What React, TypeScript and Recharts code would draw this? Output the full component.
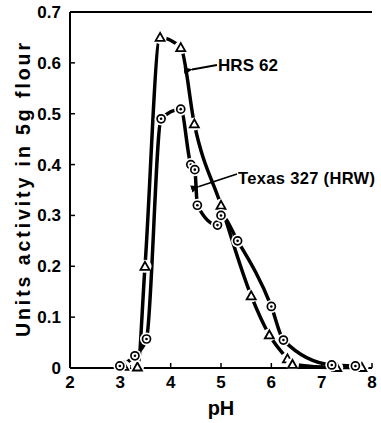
import { LineChart, Line, XAxis, YAxis, ReferenceLine } from "recharts";

const phTicks = [2, 3, 4, 5, 6, 7, 8];
const unitTicks = [0, 0.1, 0.2, 0.3, 0.4, 0.5, 0.6, 0.7];

// HRS 62 (triangles)
const hrsPh = [3.07, 3.34, 3.49, 3.79, 4.2, 4.47, 5.0, 5.6, 5.96, 6.32, 6.42, 7.3, 7.8];
const hrsUnits = [0.003, 0.002, 0.2, 0.65, 0.63, 0.48, 0.32, 0.142, 0.065, 0.018, 0.007, 0.001, 0.001];

// Texas 327 (HRW) (dotted circles)
const texasPh = [2.99, 3.29, 3.52, 3.81, 4.2, 4.4, 4.48, 4.53, 4.93, 5.0, 5.33, 6.0, 6.24, 7.2, 7.67];
const texasUnits = [0.004, 0.024, 0.057, 0.49, 0.509, 0.4, 0.39, 0.32, 0.281, 0.3, 0.25, 0.121, 0.055, 0.006, 0.004];

const hrs = hrsPh.map((ph, i) => ({ ph, units: hrsUnits[i] }));
const texas = texasPh.map((ph, i) => ({ ph, units: texasUnits[i] }));

const font = '"Liberation Sans", Arial, Helvetica, sans-serif';

function Triangle(props: any) {
    const { cx, cy } = props;
    if (cx == null || cy == null) return null;
    return (
        <g>
            <circle cx={cx} cy={cy} r={6.5} fill="#fff" />
            <polygon
                points={`${cx},${cy - 4.5} ${cx - 4.5},${cy + 3.5} ${cx + 4.5},${cy + 3.5}`}
                fill="#fff"
                stroke="#000"
                strokeWidth={1.8}
                strokeLinejoin="miter"
            />
        </g>
    );
}

function Ring(props: any) {
    const { cx, cy } = props;
    if (cx == null || cy == null) return null;
    return (
        <g>
            <circle cx={cx} cy={cy} r={6.5} fill="#fff" />
            <circle cx={cx} cy={cy} r={4} fill="#fff" stroke="#000" strokeWidth={1.7} />
            <circle cx={cx} cy={cy} r={1.3} fill="#000" />
        </g>
    );
}

export default function App() {
    return (
        <div style={{ position: "absolute", left: 0, top: 0, width: 381, height: 423, background: "#fff" }}>
            <LineChart
                width={381}
                height={423}
                margin={{ top: 12, right: 9, bottom: 10, left: 0 }}
                style={{ fontFamily: font }}
            >
                <XAxis
                    type="number"
                    dataKey="ph"
                    domain={[2, 8]}
                    ticks={phTicks}
                    height={45}
                    tickSize={-5}
                    tickMargin={13}
                    axisLine={{ stroke: "#000", strokeWidth: 2 }}
                    tickLine={{ stroke: "#000", strokeWidth: 1.5 }}
                    tick={{ fill: "#000", fontSize: 17, fontWeight: 700, fontFamily: font }}
                    allowDuplicatedCategory={false}
                />
                <YAxis
                    type="number"
                    dataKey="units"
                    domain={[0, 0.7]}
                    ticks={unitTicks}
                    width={70}
                    tickSize={-5}
                    tickMargin={14}
                    axisLine={{ stroke: "#000", strokeWidth: 2 }}
                    tickLine={{ stroke: "#000", strokeWidth: 1.5 }}
                    tick={{ fill: "#000", fontSize: 17, fontWeight: 700, fontFamily: font }}
                    tickFormatter={(v: number) => (v === 0 ? "0" : v.toFixed(1))}
                />
                <ReferenceLine y={0.7} stroke="#000" strokeWidth={2} />
                <Line
                    data={hrs}
                    dataKey="units"
                    type="monotone"
                    stroke="#000"
                    strokeWidth={3.5}
                    dot={<Triangle />}
                    activeDot={false}
                    isAnimationActive={false}
                />
                <Line
                    data={texas}
                    dataKey="units"
                    type="monotone"
                    stroke="#000"
                    strokeWidth={3.5}
                    dot={<Ring />}
                    activeDot={false}
                    isAnimationActive={false}
                />
            </LineChart>
            <svg
                width={381}
                height={423}
                style={{ position: "absolute", left: 0, top: 0, pointerEvents: "none", fontFamily: font }}
            >
                <defs>
                    <marker id="head" viewBox="0 0 10 10" refX="1" refY="5" markerWidth="5" markerHeight="5" orient="auto-start-reverse">
                        <path d="M0,5 L10,1 L10,9 Z" fill="#000" />
                    </marker>
                </defs>
                <line x1={217} y1={65} x2={192} y2={69.5} stroke="#000" strokeWidth={1.8} markerEnd="url(#head)" />
                <text x={218} y={71} fontSize={17} fontWeight={700} textLength={60} lengthAdjust="spacing">
                    HRS 62
                </text>
                <line x1={237} y1={174} x2={199} y2={186.5} stroke="#000" strokeWidth={1.8} markerEnd="url(#head)" />
                <text x={238} y={184} fontSize={16.5} fontWeight={700} textLength={137} lengthAdjust="spacing">
                    Texas 327 (HRW)
                </text>
                <text x={221} y={415} fontSize={20} fontWeight={700} textAnchor="middle">
                    pH
                </text>
                <text
                    x={0}
                    y={0}
                    fontSize={19.5}
                    fontWeight={700}
                    textAnchor="middle"
                    textLength={294}
                    lengthAdjust="spacing"
                    transform="translate(30,190) rotate(-90)"
                >
                    Units activity in 5g flour
                </text>
            </svg>
        </div>
    );
}
